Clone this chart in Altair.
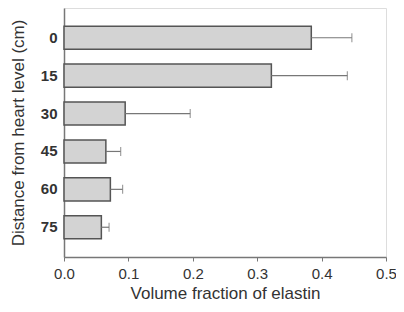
import altair as alt
import pandas as pd

distances = ["0", "15", "30", "45", "60", "75"]
values = [0.384, 0.322, 0.095, 0.065, 0.072, 0.058]
upper = [0.447, 0.440, 0.196, 0.088, 0.091, 0.070]

df = pd.DataFrame({"dist": distances, "val": values, "up": upper})

FONT = "Liberation Sans"

y_enc = alt.Y("dist:N", sort=distances,
              scale=alt.Scale(paddingInner=0.39, paddingOuter=0.48),
              axis=alt.Axis(title="Distance from heart level (cm)", ticks=False,
                            labelPadding=7, labelFontSize=15, labelColor="#333",
                            labelFontWeight="bold", labelAngle=0,
                            titleFontSize=17, titleFontWeight="normal", titleColor="#333",
                            titlePadding=13, domainColor="#777", domainWidth=1.5))

x_scale = alt.Scale(domain=[0, 0.5], nice=False)

bars = alt.Chart(df).mark_bar(fill="#d3d3d3", stroke="#555", strokeWidth=1.5).encode(
    x=alt.X("val:Q", scale=x_scale,
            axis=alt.Axis(title="Volume fraction of elastin", values=[0, 0.1, 0.2, 0.3, 0.4, 0.5],
                          format=".1f", grid=False, tickSize=4, tickColor="#777",
                          labelFlush=False,
                          domainColor="#777", domainWidth=1.5, labelFontSize=15,
                          labelColor="#333", labelPadding=5, titleFontSize=17,
                          titleFontWeight="normal", titleColor="#333", titlePadding=4)),
    y=y_enc,
)

err = alt.Chart(df).mark_rule(color="#777", strokeWidth=1.2).encode(
    x="val:Q", x2="up:Q", y=alt.Y("dist:N", sort=distances)
)
caps = alt.Chart(df).mark_tick(color="#777", thickness=1.2, size=9).encode(
    x="up:Q", y=alt.Y("dist:N", sort=distances)
)

chart = alt.layer(bars, err, caps).properties(
    width=322, height=249,
    autosize=alt.AutoSizeParams(type="none"),
    padding={"left": 56, "top": 0, "right": 10, "bottom": 47},
).configure_view(stroke=None).configure(font=FONT)

chart.save("out.html", embed_options={"renderer": "svg", "actions": False})
